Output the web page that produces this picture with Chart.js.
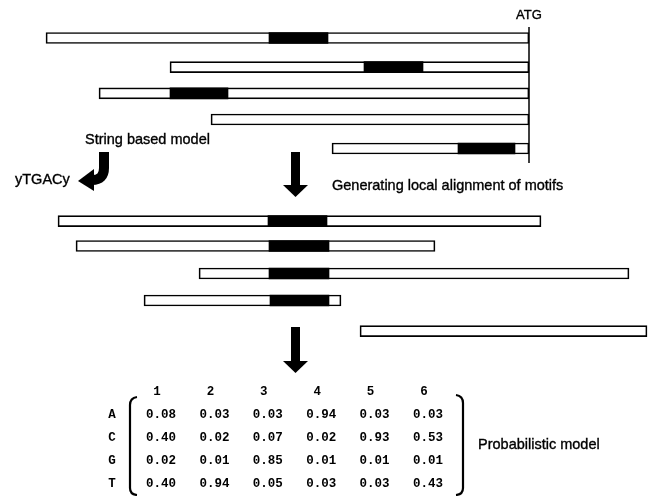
<!DOCTYPE html>
<html><head><meta charset="utf-8">
<script src="https://cdn.jsdelivr.net/npm/chart.js@4.4.1/dist/chart.umd.min.js"></script>
<style>html,body{margin:0;padding:0;background:#fff}#wrap{width:652px;height:496px;position:relative}</style>
</head><body><div id="wrap"><canvas id="c"></canvas></div>
<script>
// Promoter sequences, positions relative to ATG (0)
const promoterRows = [38, 67.2, 93.3, 119.5, 148.5];
const promoterStart = [-483, -359, -430, -318, -197];
const promoterEnd = [0, 0, 0, 0, 0];
const promoterMotifStart = [-260, -165, -359, null, -71];
const promoterMotifEnd = [-201, -106, -301, null, -14];
// Local alignment of motifs
const alignedRows = [221.2, 246, 273.5, 300.5, 331.2];
const alignedStart = [-471, -453, -330, -385, -169];
const alignedEnd = [12, -94, 100, -188, 118];
const alignedMotifStart = [-261, -260, -260, -259, null];
const alignedMotifEnd = [-202, -200, -200, -200, null];
// Probabilistic model (position weight matrix)
const positions = ['1', '2', '3', '4', '5', '6'];
const bases = ['A', 'C', 'G', 'T'];
const probA = [0.08, 0.03, 0.03, 0.94, 0.03, 0.03];
const probC = [0.40, 0.02, 0.07, 0.02, 0.93, 0.53];
const probG = [0.02, 0.01, 0.85, 0.01, 0.01, 0.01];
const probT = [0.40, 0.94, 0.05, 0.03, 0.03, 0.43];
const consensus = 'yTGACy';
const labels = {
  atg: 'ATG',
  stringModel: 'String based model',
  alignment: 'Generating local alignment of motifs',
  probModel: 'Probabilistic model'
};

function seqData(rows, s, e) {
  return rows.map((y, i) => ({ y: y, x: [s[i], e[i]] }));
}
function motifData(rows, s, e) {
  return rows.map((y, i) => s[i] === null ? null : ({ y: y, x: [s[i], e[i]] })).filter(d => d);
}

const SANS = '"Liberation Sans", Arial, sans-serif';
const MONO = '"Liberation Mono", "Courier New", monospace';

const overlay = {
  id: 'overlay',
  afterDatasetsDraw(chart) {
    const ctx = chart.ctx;
    const X = v => chart.scales.x.getPixelForValue(v);
    const Y = v => chart.scales.y.getPixelForValue(v);
    ctx.save();
    ctx.fillStyle = '#000';
    ctx.strokeStyle = '#000';

    function heavyText(t, x, y) {
      ctx.fillText(t, x, y);
      ctx.lineWidth = 0.35;
      ctx.strokeText(t, x, y);
    }

    // texts
    ctx.textBaseline = 'alphabetic';
    ctx.font = '13px ' + SANS;
    ctx.textAlign = 'center';
    heavyText(labels.atg, X(0), Y(19));
    ctx.textAlign = 'left';
    ctx.font = '14.5px ' + SANS;
    heavyText(labels.stringModel, X(-444), Y(144));
    heavyText(consensus, X(-514), Y(184));
    heavyText(labels.alignment, X(-197), Y(190));
    heavyText(labels.probModel, X(-51), Y(449));

    // straight down arrows
    function downArrow(xc, y0, y1) {
      const cx = X(xc);
      const headTop = Y(y1) - 12;
      ctx.fillRect(cx - 4.5, Y(y0), 9, headTop - Y(y0));
      ctx.beginPath();
      ctx.moveTo(cx - 12.5, headTop);
      ctx.lineTo(cx + 12.5, headTop);
      ctx.lineTo(cx, Y(y1));
      ctx.closePath();
      ctx.fill();
    }
    downArrow(-233.5, 152, 197);
    downArrow(-233.5, 327, 373);

    // curved arrow (string based model -> consensus)
    const ax = X(-425);
    ctx.lineWidth = 10;
    ctx.lineCap = 'butt';
    ctx.beginPath();
    ctx.moveTo(ax, Y(152));
    ctx.lineTo(ax, Y(168));
    ctx.quadraticCurveTo(ax, Y(180), ax - 12, Y(180));
    ctx.stroke();
    ctx.beginPath();
    ctx.moveTo(ax - 10, Y(169));
    ctx.lineTo(ax - 10, Y(191));
    ctx.lineTo(ax - 26, Y(181));
    ctx.closePath();
    ctx.fill();

    // matrix
    const colX = i => X(-368 + i * 53.4);
    const rowY = j => Y(418 + j * 23);
    ctx.font = 'bold 12.5px ' + MONO;
    ctx.textAlign = 'center';
    positions.forEach((p, i) => ctx.fillText(p, colX(i) - 4, Y(395)));
    const probs = [probA, probC, probG, probT];
    bases.forEach((b, j) => {
      ctx.fillText(b, X(-417), rowY(j));
      probs[j].forEach((v, i) => ctx.fillText(v.toFixed(2), colX(i), rowY(j)));
    });
    // brackets
    ctx.lineWidth = 2.2;
    ctx.beginPath();
    ctx.moveTo(X(-392), Y(397));
    ctx.quadraticCurveTo(X(-399), Y(398), X(-399), Y(405));
    ctx.lineTo(X(-399), Y(488));
    ctx.quadraticCurveTo(X(-399), Y(494.5), X(-392), Y(495));
    ctx.stroke();
    ctx.beginPath();
    ctx.moveTo(X(-73), Y(395));
    ctx.quadraticCurveTo(X(-66), Y(396), X(-66), Y(403));
    ctx.lineTo(X(-66), Y(488));
    ctx.quadraticCurveTo(X(-66), Y(494.5), X(-73), Y(495));
    ctx.stroke();
    ctx.restore();
  }
};

const barCommon = { grouped: false, barThickness: 11, borderSkipped: false };

new Chart(document.getElementById('c'), {
  type: 'bar',
  data: {
    datasets: [
      Object.assign({ label: 'promoters', data: seqData(promoterRows, promoterStart, promoterEnd),
        backgroundColor: '#fff', borderColor: '#000', borderWidth: 1.7, order: 2 }, barCommon),
      Object.assign({ label: 'aligned', data: seqData(alignedRows, alignedStart, alignedEnd),
        backgroundColor: '#fff', borderColor: '#000', borderWidth: 1.7, order: 2 }, barCommon),
      Object.assign({ label: 'promoter motifs', data: motifData(promoterRows, promoterMotifStart, promoterMotifEnd),
        backgroundColor: '#000', borderColor: '#000', borderWidth: 0, order: 1 }, barCommon),
      Object.assign({ label: 'aligned motifs', data: motifData(alignedRows, alignedMotifStart, alignedMotifEnd),
        backgroundColor: '#000', borderColor: '#000', borderWidth: 0, order: 1 }, barCommon),
      { type: 'line', label: 'ATG', data: [{ x: 0, y: 27 }, { x: 0, y: 163 }], order: 0,
        borderColor: '#000', borderWidth: 1.5, pointRadius: 0, fill: false }
    ]
  },
  options: {
    indexAxis: 'y',
    responsive: true,
    maintainAspectRatio: false,
    animation: false,
    layout: { padding: 0 },
    plugins: { legend: { display: false }, tooltip: { enabled: false } },
    scales: {
      x: { type: 'linear', min: -529, max: 123, display: false, offset: false },
      y: { type: 'linear', min: 0, max: 496, reverse: true, display: false, offset: false }
    }
  },
  plugins: [overlay]
});
</script>
</body></html>
